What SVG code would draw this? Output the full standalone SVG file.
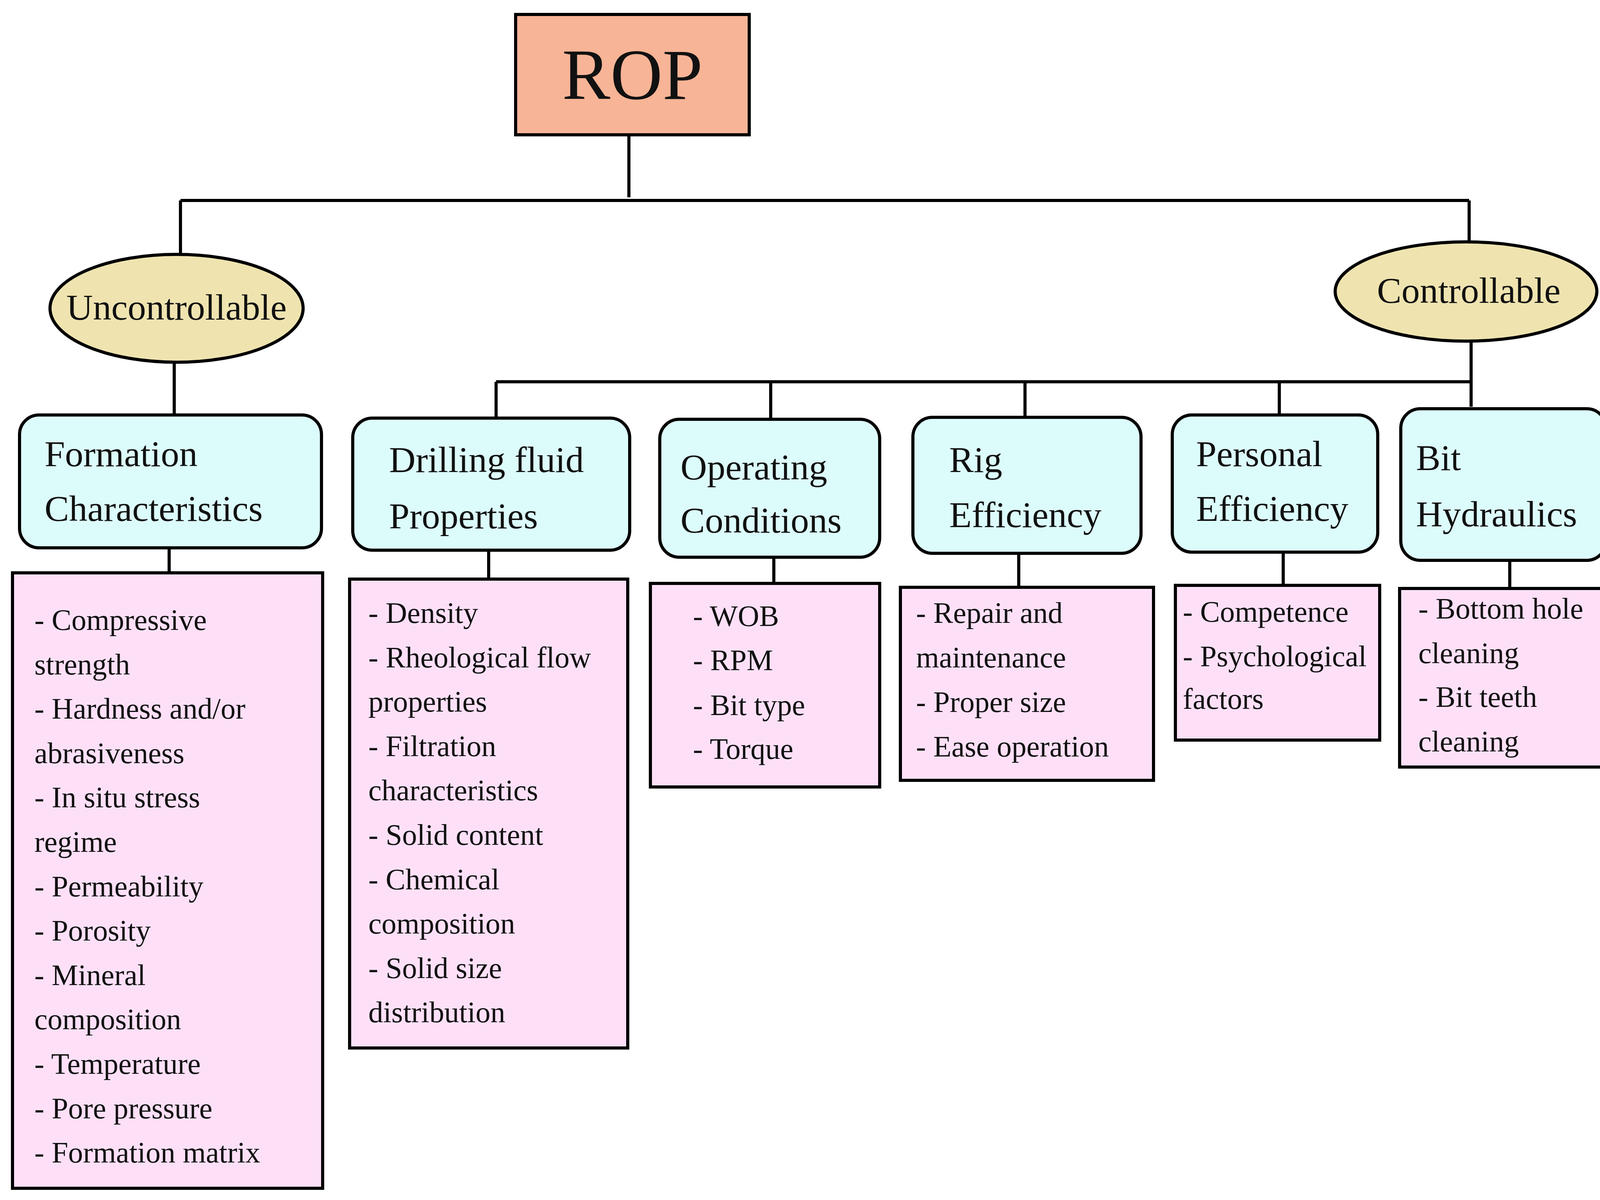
<svg xmlns="http://www.w3.org/2000/svg" width="4165" height="3071" viewBox="0 0 4165 3071">
<style>
.ln{stroke:#000;stroke-width:8;fill:none}
.cy{fill:#dcfcfb;stroke:#000;stroke-width:8}
.pk{fill:#fde0f8;stroke:#000;stroke-width:8}
.el{fill:#efe4b0;stroke:#000;stroke-width:8}
text{font-family:"Liberation Serif",serif;fill:#111}
.t{font-size:94px}
.l{font-size:76px}
</style>
<rect width="4165" height="3071" fill="#fff"/>
<g id="connectors">
<path class="ln" d="M1610 345V505M462 513H3761M462 513V655M3761 513V620"/>
<path class="ln" d="M446 927V1062M3766 874V1041M1270 977H3766M1270 977V1070M1973 977V1073M2624 977V1068M3275 977V1062"/>
<path class="ln" d="M433 1402V1466M1251 1408V1482M1981 1426V1493M2608 1416V1503M3285 1413V1498M3865 1434V1506"/>
</g>
<g id="rop"><rect x="1320" y="37" width="598" height="308" fill="#f8b496" stroke="#000" stroke-width="8"/><text x="1619" y="253" font-size="185" text-anchor="middle">ROP</text></g>
<g id="uncontrollable"><ellipse class="el" cx="452" cy="789" rx="324" ry="138"/><text x="452" y="818" font-size="94" text-anchor="middle">Uncontrollable</text></g>
<g id="controllable"><ellipse class="el" cx="3753" cy="746" rx="335" ry="127"/><text x="3760" y="775" font-size="94" text-anchor="middle">Controllable</text></g>
<g id="formation"><rect class="cy" x="50" y="1062" width="773" height="340" rx="50"/><text class="t" x="114" y="1193">Formation</text><text class="t" x="114" y="1333">Characteristics</text></g>
<g id="drilling"><rect class="cy" x="903" y="1070" width="709" height="338" rx="50"/><text class="t" x="996" y="1208">Drilling fluid</text><text class="t" x="996" y="1352">Properties</text></g>
<g id="operating"><rect class="cy" x="1689" y="1073" width="563" height="353" rx="50"/><text class="t" x="1742" y="1227">Operating</text><text class="t" x="1742" y="1363">Conditions</text></g>
<g id="rig"><rect class="cy" x="2337" y="1068" width="584" height="348" rx="50"/><text class="t" x="2430" y="1208">Rig</text><text class="t" x="2430" y="1349">Efficiency</text></g>
<g id="personal"><rect class="cy" x="3001" y="1062" width="526" height="351" rx="50"/><text class="t" x="3062" y="1193">Personal</text><text class="t" x="3062" y="1333">Efficiency</text></g>
<g id="bit"><rect class="cy" x="3586" y="1046" width="526" height="388" rx="50"/><text class="t" x="3625" y="1203">Bit</text><text class="t" x="3625" y="1347">Hydraulics</text></g>
<g id="formation-list"><rect class="pk" x="32" y="1466" width="794" height="1575"/>
<text class="l" x="88" y="1612">- Compressive</text><text class="l" x="88" y="1726">strength</text><text class="l" x="88" y="1839">- Hardness and/or</text><text class="l" x="88" y="1953">abrasiveness</text><text class="l" x="88" y="2066">- In situ stress</text><text class="l" x="88" y="2180">regime</text><text class="l" x="88" y="2294">- Permeability</text><text class="l" x="88" y="2407">- Porosity</text><text class="l" x="88" y="2521">- Mineral</text><text class="l" x="88" y="2634">composition</text><text class="l" x="88" y="2748">- Temperature</text><text class="l" x="88" y="2862">- Pore pressure</text><text class="l" x="88" y="2975">- Formation matrix</text></g>
<g id="drilling-list"><rect class="pk" x="895" y="1482" width="712" height="1200"/>
<text class="l" x="943" y="1594">- Density</text><text class="l" x="943" y="1708">- Rheological flow</text><text class="l" x="943" y="1821">properties</text><text class="l" x="943" y="1935">- Filtration</text><text class="l" x="943" y="2048">characteristics</text><text class="l" x="943" y="2162">- Solid content</text><text class="l" x="943" y="2276">- Chemical</text><text class="l" x="943" y="2389">composition</text><text class="l" x="943" y="2503">- Solid size</text><text class="l" x="943" y="2616">distribution</text></g>
<g id="operating-list"><rect class="pk" x="1665" y="1493" width="587" height="521"/>
<text class="l" x="1774" y="1602">- WOB</text><text class="l" x="1774" y="1715">- RPM</text><text class="l" x="1774" y="1830">- Bit type</text><text class="l" x="1774" y="1942">- Torque</text></g>
<g id="rig-list"><rect class="pk" x="2305" y="1503" width="648" height="494"/>
<text class="l" x="2345" y="1594">- Repair and</text><text class="l" x="2345" y="1708">maintenance</text><text class="l" x="2345" y="1822">- Proper size</text><text class="l" x="2345" y="1936">- Ease operation</text></g>
<g id="personal-list"><rect class="pk" x="3009" y="1498" width="523" height="396"/>
<text class="l" x="3028" y="1591">- Competence</text><text class="l" x="3028" y="1705">- Psychological</text><text class="l" x="3028" y="1814">factors</text></g>
<g id="bit-list"><rect class="pk" x="3583" y="1506" width="550" height="457"/>
<text class="l" x="3631" y="1583">- Bottom hole</text><text class="l" x="3631" y="1697">cleaning</text><text class="l" x="3631" y="1809">- Bit teeth</text><text class="l" x="3631" y="1923">cleaning</text></g>
</svg>
